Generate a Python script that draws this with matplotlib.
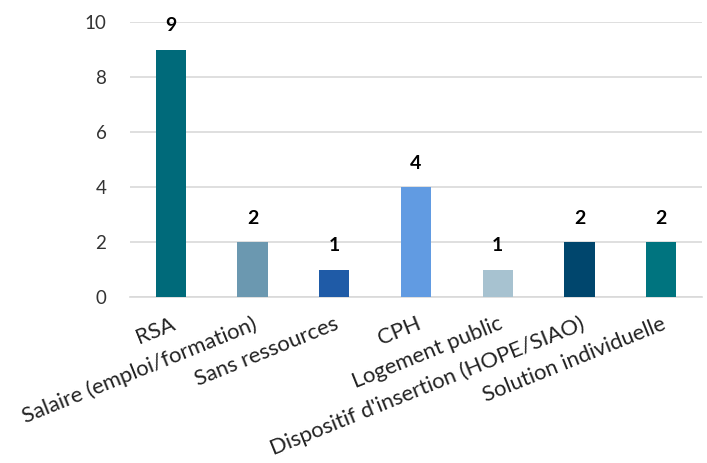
import matplotlib
matplotlib.use("Agg")
import matplotlib.pyplot as plt

categories = ["RSA", "Salaire (emploi/formation)", "Sans ressources", "CPH",
              "Logement public", "Dispositif d'insertion (HOPE/SIAO)",
              "Solution individuelle"]
values = [9, 2, 1, 4, 1, 2, 2]
colors = ["#006a7a", "#6b98b0", "#1f5ba7", "#619be2", "#a7c2d0", "#00466d", "#00747f"]
yticks = [0, 2, 4, 6, 8, 10]

plt.rcParams["font.family"] = ["Lato", "DejaVu Sans"]

fig = plt.figure(figsize=(7.07, 4.63), dpi=100)
ax = fig.add_axes([130 / 707, 1 - 297 / 463, 572 / 707, 275 / 463])

x = range(len(categories))
ax.bar(x, values, width=0.37, color=colors, zorder=3)
for xi, v in zip(x, values):
    ax.text(xi, v + 0.55, str(v), ha="center", va="bottom",
            fontsize=14, fontweight="bold", color="#000000")

ax.set_xlim(-0.5, len(categories) - 0.5)
ax.set_ylim(0, 10)
ax.set_yticks(yticks)
ax.set_yticklabels([str(t) for t in yticks], fontsize=13.5, color="#333333")
ax.yaxis.grid(True, color="#d9d9d9", linewidth=1.2, zorder=0)
ax.tick_params(axis="y", length=0, pad=17)
ax.tick_params(axis="x", length=0, pad=12)
ax.set_xticks(list(x))
ax.set_xticklabels(categories, rotation=22, ha="right", rotation_mode="anchor",
                   fontsize=15.8, color="#222222")
for s in ["top", "right", "left"]:
    ax.spines[s].set_visible(False)
ax.spines["bottom"].set_color("#d9d9d9")
ax.spines["bottom"].set_linewidth(1.2)

fig.savefig("out.png", dpi=100)
